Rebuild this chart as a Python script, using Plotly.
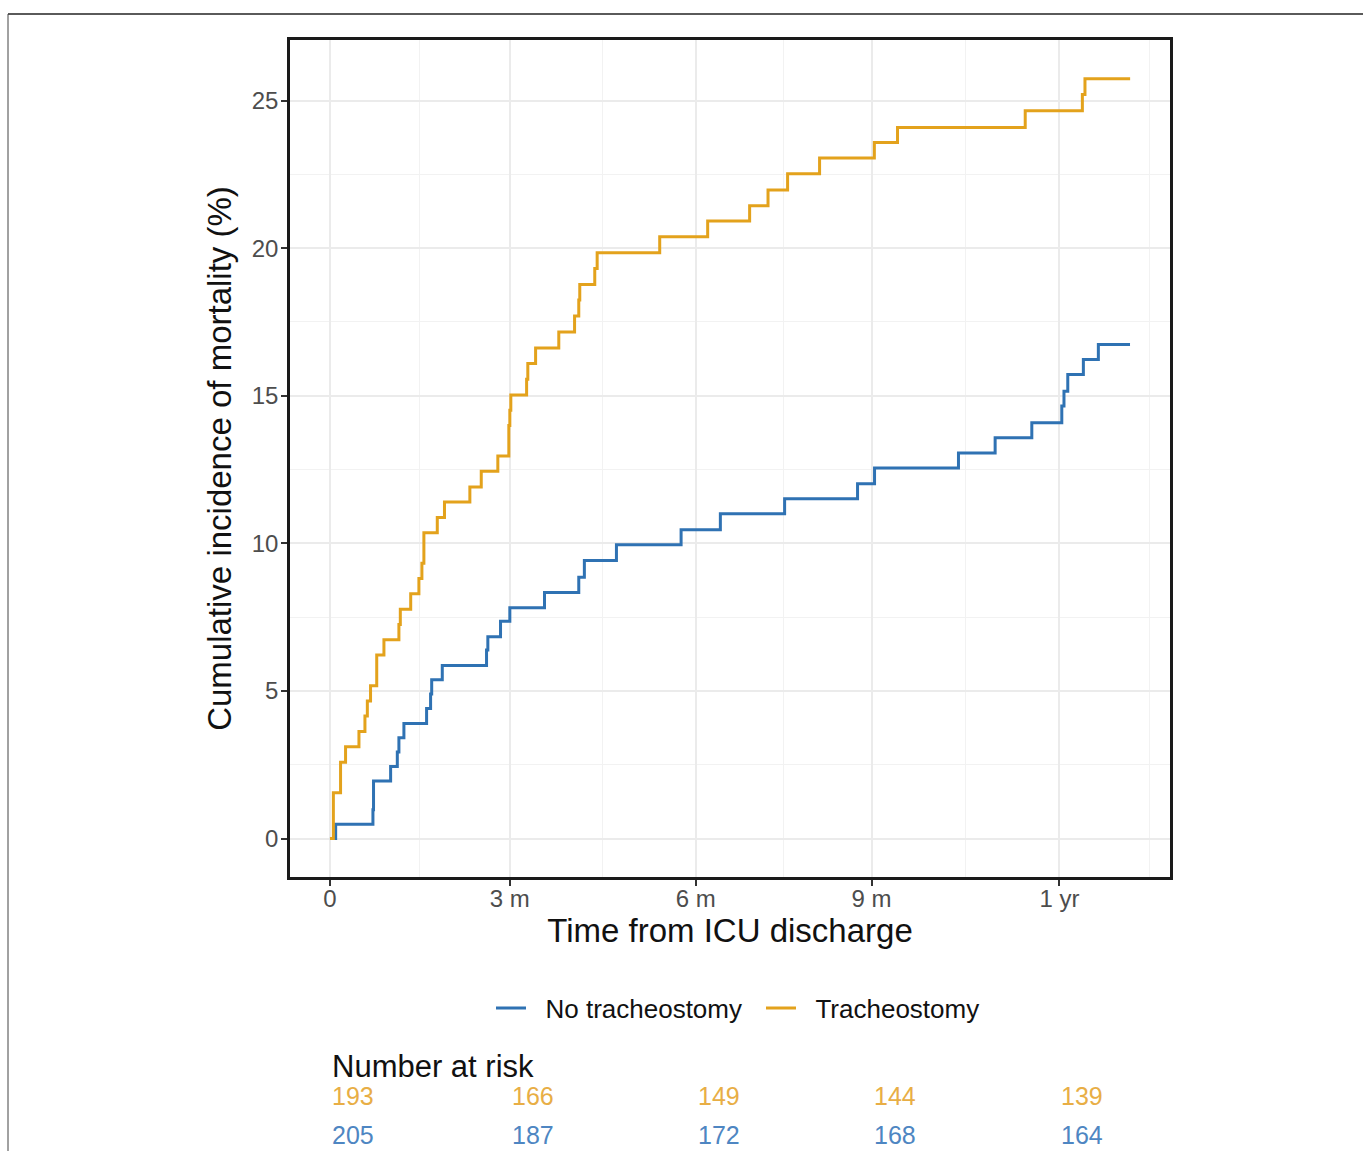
import plotly.graph_objects as go

# ---------------- data ----------------
trach_days = [0, 1.7, 5.3, 7.8, 14.5, 17.5, 18.7, 20.3, 23.4, 27.0, 34.5, 35.2, 40.4, 44.5,
              46.0, 47.0, 53.7, 57.3, 70.0, 75.7, 84.0, 89.5, 90.0, 90.5, 98.4, 99.0, 102.9,
              114.5, 122.4, 124.5, 125.0, 132.5, 133.7, 165.0, 189.0, 210.0, 219.2, 229.0,
              245.0, 272.4, 284.0, 347.9, 376.5, 377.8, 400.4]
trach_inc = [0, 1.55, 2.59, 3.11, 3.63, 4.15, 4.66, 5.18, 6.22, 6.74, 7.25, 7.77, 8.29, 8.81,
             9.33, 10.36, 10.88, 11.40, 11.91, 12.44, 12.96, 13.99, 14.51, 15.03, 15.56, 16.09,
             16.62, 17.16, 17.70, 18.24, 18.77, 19.31, 19.84, 20.39, 20.92, 21.44, 21.97, 22.52,
             23.05, 23.58, 24.09, 24.65, 25.20, 25.74, 25.74]

notrach_days = [0, 2.85, 21.5, 21.8, 30.35, 33.7, 34.5, 37.0, 48.35, 50.35, 50.9, 56.2, 78.35,
                79.0, 85.35, 90.0, 107.35, 124.5, 127.3, 143.35, 175.7, 195.35, 227.5, 264.0,
                272.5, 314.5, 332.85, 351.2, 366.2, 367.3, 369.2, 377.0, 384.5, 400.35]
notrach_inc = [0, 0.49, 0.98, 1.95, 2.44, 2.93, 3.42, 3.90, 4.41, 4.90, 5.38, 5.86, 6.39,
               6.84, 7.36, 7.82, 8.34, 8.85, 9.42, 9.95, 10.46, 11.00, 11.51, 12.02, 12.55,
               13.06, 13.58, 14.09, 14.65, 15.15, 15.72, 16.23, 16.74, 16.74]

tick_days = [0, 90, 183, 271, 365]
tick_labels = ["0", "3 m", "6 m", "9 m", "1 yr"]
minor_days = [45, 136.5, 227, 318, 410]

y_ticks = [0, 5, 10, 15, 20, 25]
y_minor = [2.5, 7.5, 12.5, 17.5, 22.5]

risk_trach = [193, 166, 149, 144, 139]
risk_notrach = [205, 187, 172, 168, 164]

series_names = ["No tracheostomy", "Tracheostomy"]

BLUE = "#2F72B3"
ORANGE = "#E3A21C"
BLUE_TXT = "#4E86C2"
ORANGE_TXT = "#E8AE45"
FONT = "Liberation Sans, Arial, sans-serif"

# ---------------- layout geometry ----------------
W, H = 1363, 1151
L, R, T, B = 290, 1170, 40, 877


def px(x):
    return (x - L) / (R - L)


def py(y):
    return (B - y) / (B - T)


PAD = "\u00a0\u00a0"  # small gap between legend line and its label

fig = go.Figure()
fig.add_trace(go.Scatter(x=notrach_days, y=notrach_inc, mode="lines", name=PAD + series_names[0],
                         line=dict(color=BLUE, width=3, shape="hv")))
fig.add_trace(go.Scatter(x=trach_days, y=trach_inc, mode="lines", name=PAD + series_names[1],
                         line=dict(color=ORANGE, width=3, shape="hv")))

annotations = [dict(text="Number at risk", x=tick_days[0], xref="x", xanchor="left",
                    y=py(1066), yref="paper", yanchor="middle", showarrow=False,
                    font=dict(family=FONT, size=31, color="#111111"))]
for d, n in zip(tick_days, risk_trach):
    annotations.append(dict(text=str(n), x=d, xref="x", xanchor="left", y=py(1096), yref="paper",
                            yanchor="middle", showarrow=False,
                            font=dict(family=FONT, size=25, color=ORANGE_TXT)))
for d, n in zip(tick_days, risk_notrach):
    annotations.append(dict(text=str(n), x=d, xref="x", xanchor="left", y=py(1135), yref="paper",
                            yanchor="middle", showarrow=False,
                            font=dict(family=FONT, size=25, color=BLUE_TXT)))

shapes = [
    dict(type="line", xref="paper", yref="paper", x0=px(8), x1=px(1363), y0=py(14), y1=py(14),
         line=dict(color="#5A5A5A", width=2)),
    dict(type="line", xref="paper", yref="paper", x0=px(8), x1=px(8), y0=py(14), y1=py(1151),
         line=dict(color="#444444", width=1)),
]

fig.update_layout(
    width=W, height=H,
    margin=dict(l=L, r=W - R, t=T, b=H - B, pad=0),
    paper_bgcolor="white", plot_bgcolor="white",
    font=dict(family=FONT, color="#111111"),
    showlegend=True,
    legend=dict(orientation="h", x=px(491), xanchor="left", y=py(1008), yanchor="middle",
                font=dict(family=FONT, size=26, color="#111111"), bgcolor="rgba(0,0,0,0)",
                itemwidth=30, entrywidth=225, entrywidthmode="pixels", tracegroupgap=0),
    annotations=annotations,
    shapes=shapes,
)

fig.update_xaxes(
    range=[-20, 420.35], tickmode="array", tickvals=tick_days, ticktext=tick_labels,
    showgrid=True, gridcolor="#EBEBEB", gridwidth=1.6, zeroline=False,
    showline=True, linecolor="#1A1A1A", linewidth=2.5, mirror=True,
    ticks="outside", ticklen=6, tickwidth=1.5, tickcolor="#333333",
    tickfont=dict(family=FONT, size=24, color="#4D4D4D"), ticklabelstandoff=-8,
    minor=dict(tickmode="array", tickvals=minor_days, showgrid=True, gridcolor="#F2F2F2",
               gridwidth=1.2, ticks=""),
    title=dict(text="Time from ICU discharge", font=dict(family=FONT, size=33, color="#111111"),
               standoff=6),
)
fig.update_yaxes(
    range=[-1.3, 27.05], tickmode="array", tickvals=y_ticks, ticktext=[str(v) for v in y_ticks],
    showgrid=True, gridcolor="#EBEBEB", gridwidth=1.6, zeroline=False,
    showline=True, linecolor="#1A1A1A", linewidth=2.5, mirror=True,
    ticks="outside", ticklen=6, tickwidth=1.5, tickcolor="#333333",
    tickfont=dict(family=FONT, size=24, color="#4D4D4D"), ticklabelstandoff=-2,
    minor=dict(tickmode="array", tickvals=y_minor, showgrid=True, gridcolor="#F2F2F2",
               gridwidth=1.2, ticks=""),
    title=dict(text="Cumulative incidence of mortality (%)",
               font=dict(family=FONT, size=33, color="#111111"), standoff=11),
)

fig.write_html("out.html", config={"displayModeBar": False},
               post_script="document.body.style.margin='0px';document.body.style.overflow='hidden';")
